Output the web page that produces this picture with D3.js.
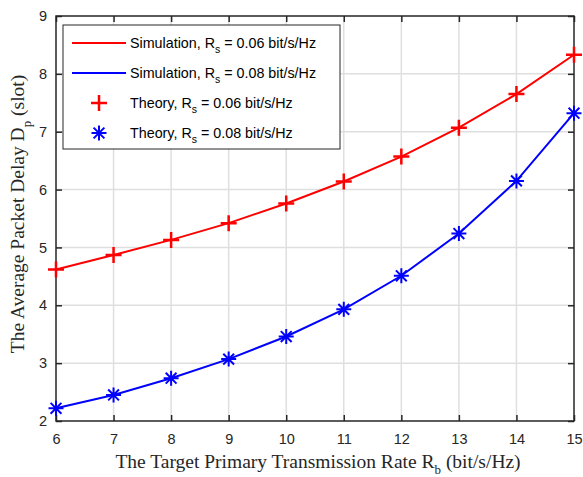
<!DOCTYPE html>
<html>
<head>
<meta charset="utf-8">
<script src="https://cdn.jsdelivr.net/npm/d3@7"></script>
<style>
  body { margin: 0; background: #fff; }
  text { fill: #262626; }
</style>
</head>
<body>
<div class="chart"></div>
<script>
// data
const rates = [6, 7, 8, 9, 10, 11, 12, 13, 14, 15];
const delay006 = [4.62, 4.87, 5.13, 5.42, 5.76, 6.14, 6.57, 7.07, 7.65, 8.33];
const delay008 = [2.22, 2.45, 2.74, 3.07, 3.46, 3.93, 4.51, 5.24, 6.15, 7.32];
const xTicks = [6, 7, 8, 9, 10, 11, 12, 13, 14, 15];
const yTicks = [2, 3, 4, 5, 6, 7, 8, 9];

const w = 583, h = 477;
const pLeft = 56, pRight = 574, pTop = 16, pBottom = 421;

const svg = d3.select(".chart").append("svg")
  .attr("width", w).attr("height", h);

const x = d3.scaleLinear().domain([6, 15]).range([pLeft, pRight]);
const y = d3.scaleLinear().domain([2, 9]).range([pBottom, pTop]);

// grid
svg.append("g").selectAll("line").data(xTicks.slice(1, -1)).enter().append("line")
  .attr("x1", d => x(d)).attr("x2", d => x(d)).attr("y1", pTop).attr("y2", pBottom)
  .attr("stroke", "#dfdfdf").attr("stroke-width", 1.5);
svg.append("g").selectAll("line").data(yTicks.slice(1, -1)).enter().append("line")
  .attr("y1", d => y(d)).attr("y2", d => y(d)).attr("x1", pLeft).attr("x2", pRight)
  .attr("stroke", "#dfdfdf").attr("stroke-width", 1.5);

// axes, ticks inward on all four sides
const tickFont = g => g.selectAll("text")
  .attr("font-family", "Liberation Sans, Arial, sans-serif").attr("font-size", 14.5).attr("fill", "#262626");
const styleAxis = g => {
  g.select(".domain").remove();
  g.selectAll("line").attr("stroke", "#262626").attr("stroke-width", 1.5);
};
svg.append("g").attr("transform", `translate(0,${pBottom})`)
  .call(d3.axisBottom(x).tickValues(xTicks).tickFormat(d3.format("d")).tickSizeInner(-6).tickPadding(13))
  .call(styleAxis).call(tickFont);
svg.append("g").attr("transform", `translate(0,${pTop})`)
  .call(d3.axisTop(x).tickValues(xTicks).tickSizeInner(-6).tickFormat(""))
  .call(styleAxis);
svg.append("g").attr("transform", `translate(${pLeft},0)`)
  .call(d3.axisLeft(y).tickValues(yTicks).tickFormat(d3.format("d")).tickSizeInner(-6).tickPadding(9))
  .call(styleAxis).call(tickFont);
svg.append("g").attr("transform", `translate(${pRight},0)`)
  .call(d3.axisRight(y).tickValues(yTicks).tickSizeInner(-6).tickFormat(""))
  .call(styleAxis);
svg.append("rect").attr("x", pLeft).attr("y", pTop)
  .attr("width", pRight - pLeft).attr("height", pBottom - pTop)
  .attr("fill", "none").attr("stroke", "#262626").attr("stroke-width", 1.5);

// lines
const line = d3.line().x((d, i) => x(rates[i])).y(d => y(d));
svg.append("path").datum(delay006).attr("d", line)
  .attr("fill", "none").attr("stroke", "#ff0000").attr("stroke-width", 2);
svg.append("path").datum(delay008).attr("d", line)
  .attr("fill", "none").attr("stroke", "#0000ff").attr("stroke-width", 2);

// markers
const plusPath = s => `M${-s},0H${s}M0,${-s}V${s}`;
const starPath = s => {
  const d = s * 0.72;
  return `M${-s},0H${s}M0,${-s}V${s}M${-d},${-d}L${d},${d}M${-d},${d}L${d},${-d}`;
};
svg.append("g").selectAll("path").data(delay006).enter().append("path")
  .attr("transform", (d, i) => `translate(${x(rates[i])},${y(d)})`)
  .attr("d", plusPath(8)).attr("stroke", "#ff0000").attr("stroke-width", 2.5).attr("fill", "none");
svg.append("g").selectAll("path").data(delay008).enter().append("path")
  .attr("transform", (d, i) => `translate(${x(rates[i])},${y(d)})`)
  .attr("d", starPath(7.5)).attr("stroke", "#0000ff").attr("stroke-width", 2).attr("fill", "none");

// legend
const lg = svg.append("g");
lg.append("rect").attr("x", 63).attr("y", 25).attr("width", 277).attr("height", 124)
  .attr("fill", "#fff").attr("stroke", "#262626").attr("stroke-width", 1);
const legendItems = [
  { label: "Simulation, R", rate: "0.06", color: "#ff0000", kind: "line" },
  { label: "Simulation, R", rate: "0.08", color: "#0000ff", kind: "line" },
  { label: "Theory, R", rate: "0.06", color: "#ff0000", kind: "plus" },
  { label: "Theory, R", rate: "0.08", color: "#0000ff", kind: "star" }
];
legendItems.forEach((it, i) => {
  const cy = 43 + i * 30;
  if (it.kind === "line") {
    lg.append("line").attr("x1", 72).attr("x2", 126).attr("y1", cy).attr("y2", cy)
      .attr("stroke", it.color).attr("stroke-width", 2);
  } else {
    lg.append("path").attr("transform", `translate(99,${cy})`)
      .attr("d", it.kind === "plus" ? plusPath(8) : starPath(7.5))
      .attr("stroke", it.color).attr("stroke-width", it.kind === "plus" ? 2.5 : 2).attr("fill", "none");
  }
  const t = lg.append("text").attr("x", 130).attr("y", cy + 5)
    .attr("font-family", "Liberation Sans, Arial, sans-serif").attr("font-size", 14.3).style("fill", "#000");
  t.append("tspan").text(it.label);
  t.append("tspan").attr("dy", 5).attr("font-size", 10.5).text("s");
  t.append("tspan").attr("dy", -5).text(` = ${it.rate} bit/s/Hz`);
});

// axis titles
const xt = svg.append("text").attr("x", 318).attr("y", 468)
  .attr("text-anchor", "middle")
  .attr("font-family", "Liberation Serif, Times New Roman, serif").attr("font-size", 19.5);
xt.append("tspan").text("The Target Primary Transmission Rate R");
xt.append("tspan").attr("dy", 6).attr("font-size", 13).text("b");
xt.append("tspan").attr("dy", -6).text(" (bit/s/Hz)");

const yt = svg.append("text")
  .attr("transform", `translate(24,214) rotate(-90)`)
  .attr("text-anchor", "middle")
  .attr("font-family", "Liberation Serif, Times New Roman, serif").attr("font-size", 19.5);
yt.append("tspan").text("The Average Packet Delay D");
yt.append("tspan").attr("dy", 7).attr("font-size", 13).text("p");
yt.append("tspan").attr("dy", -7).text("  (slot)");
</script>
</body>
</html>
